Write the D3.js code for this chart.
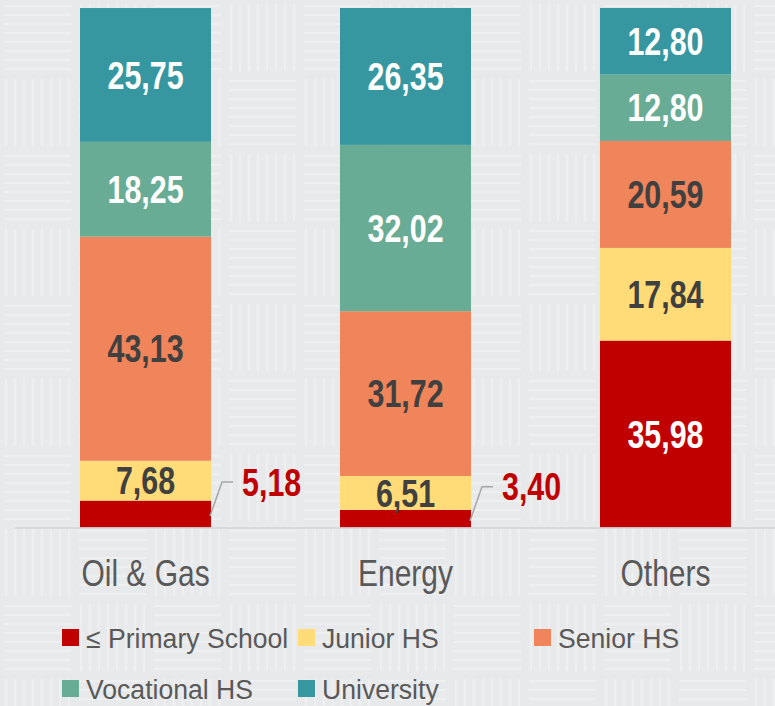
<!DOCTYPE html>
<html>
<head>
<meta charset="utf-8">
<script src="https://cdn.jsdelivr.net/npm/d3@7"></script>
<style>
  html, body { margin: 0; padding: 0; background: #e9eaeb; }
  svg { display: block; }
</style>
</head>
<body>
<svg id="chart" width="775" height="706"></svg>
<script>
const categories = ['Oil & Gas', 'Energy', 'Others'];
const levels = ['≤ Primary School', 'Junior HS', 'Senior HS', 'Vocational HS', 'University'];
const primary = [5.18, 3.40, 35.98];
const junior = [7.68, 6.51, 17.84];
const senior = [43.13, 31.72, 20.59];
const vocational = [18.25, 32.02, 12.80];
const university = [25.75, 26.35, 12.80];

const colors = ['#c00000', '#ffdc78', '#f0845a', '#69ac95', '#3697a0'];
const labelColors = ['#ffffff', '#404040', '#404040', '#ffffff', '#ffffff'];
// no narrow face installed, so text gets squeezed horizontally
const font = "'Liberation Sans', Arial, sans-serif";
const squeeze = 0.8;

const rows = categories.map((c, i) => ({
  cat: c,
  [levels[0]]: primary[i],
  [levels[1]]: junior[i],
  [levels[2]]: senior[i],
  [levels[3]]: vocational[i],
  [levels[4]]: university[i]
}));

const svg = d3.select('#chart');

// basket weave background
const defs = svg.append('defs');
const pat = defs.append('pattern')
  .attr('id', 'weave')
  .attr('patternUnits', 'userSpaceOnUse')
  .attr('width', 150).attr('height', 150);
pat.append('rect').attr('width', 150).attr('height', 150).attr('fill', '#e8e9ea');
[[0, 0, 'h'], [75, 0, 'v'], [0, 75, 'v'], [75, 75, 'h']].forEach(([ox, oy, dir]) => {
  for (let k = 6; k < 75; k += 9) {
    if (dir === 'h') {
      pat.append('line').attr('x1', ox + 4).attr('x2', ox + 71).attr('y1', oy + k).attr('y2', oy + k);
    } else {
      pat.append('line').attr('y1', oy + 4).attr('y2', oy + 71).attr('x1', ox + k).attr('x2', ox + k);
    }
  }
});
pat.selectAll('line').attr('stroke', '#eeeff0').attr('stroke-width', 2.5);
svg.append('rect').attr('width', 775).attr('height', 706).attr('fill', 'url(#weave)');

const x = d3.scaleBand()
  .domain(categories)
  .range([15, 796])
  .paddingInner(0.496)
  .paddingOuter(0.25);

const y = d3.scaleLinear().domain([0, 100]).range([527.5, 8]);

const series = d3.stack().keys(levels)(rows);

const layer = svg.append('g')
  .selectAll('g')
  .data(series)
  .join('g')
  .attr('fill', (d, i) => colors[i]);

layer.selectAll('rect')
  .data(d => d)
  .join('rect')
  .attr('x', d => x(d.data.cat))
  .attr('width', x.bandwidth())
  .attr('y', d => y(d[1]))
  .attr('height', d => y(d[0]) - y(d[1]));

// baseline
svg.append('line')
  .attr('x1', 15).attr('x2', 775)
  .attr('y1', y(0) + 0.5).attr('y2', y(0) + 0.5)
  .attr('stroke', '#d2d3d4').attr('stroke-width', 1.5);

const fmt = v => v.toFixed(2).replace('.', ',');
const small = 6;

// labels inside segments
series.forEach((s, i) => {
  svg.append('g')
    .attr('font-family', font)
    .attr('font-weight', 'bold')
    .attr('font-size', 38)
    .attr('text-anchor', 'middle')
    .attr('fill', labelColors[i])
    .selectAll('text')
    .data(s.filter(d => d[1] - d[0] > small))
    .join('text')
    .attr('transform', d => `translate(${x(d.data.cat) + x.bandwidth() / 2},${(y(d[0]) + y(d[1])) / 2}) scale(${squeeze},1)`)
    .attr('dy', '0.36em')
    .text(d => fmt(d[1] - d[0]));
});

// callouts for the thin segments
const callouts = series[0].filter(d => d[1] - d[0] <= small);
const co = svg.append('g');
co.selectAll('path')
  .data(callouts)
  .join('path')
  .attr('fill', 'none')
  .attr('stroke', '#a6a6a6')
  .attr('stroke-width', 1.5)
  .attr('d', d => {
    const x0 = x(d.data.cat) + x.bandwidth() - 1;
    const ym = (y(d[0]) + y(d[1])) / 2 + 2;
    return `M${x0},${ym}L${x0 + 12},${ym - 34}L${x0 + 23},${ym - 34}`;
  });
co.selectAll('text')
  .data(callouts)
  .join('text')
  .attr('font-family', font)
  .attr('font-weight', 'bold')
  .attr('font-size', 38)
  .attr('fill', '#c00000')
  .attr('transform', d => `translate(${x(d.data.cat) + x.bandwidth() + 31},${(y(d[0]) + y(d[1])) / 2 - 32}) scale(${squeeze},1)`)
  .attr('dy', '0.36em')
  .text(d => fmt(d[1] - d[0]));

// category axis
const axis = svg.append('g')
  .attr('transform', `translate(0,${y(0)})`)
  .call(d3.axisBottom(x).tickSize(0).tickPadding(0));
axis.select('.domain').remove();
axis.selectAll('text')
  .attr('font-family', font)
  .attr('font-size', 37)
  .attr('fill', '#595959')
  .attr('dy', null)
  .attr('y', 59)
  .attr('transform', 'scale(0.81,1)');

// legend
const legendPos = [[62, 629], [298, 629], [534, 629], [62, 680], [298, 680]];
const legend = svg.append('g')
  .selectAll('g')
  .data(levels)
  .join('g')
  .attr('transform', (d, i) => `translate(${legendPos[i][0]},${legendPos[i][1]})`);
legend.append('rect')
  .attr('width', 17).attr('height', 17)
  .attr('fill', (d, i) => colors[i]);
legend.append('text')
  .attr('transform', 'translate(24,18.5) scale(0.95,1)')
  .attr('font-family', font)
  .attr('font-size', 28)
  .attr('fill', '#595959')
  .text(d => d);
</script>
</body>
</html>
